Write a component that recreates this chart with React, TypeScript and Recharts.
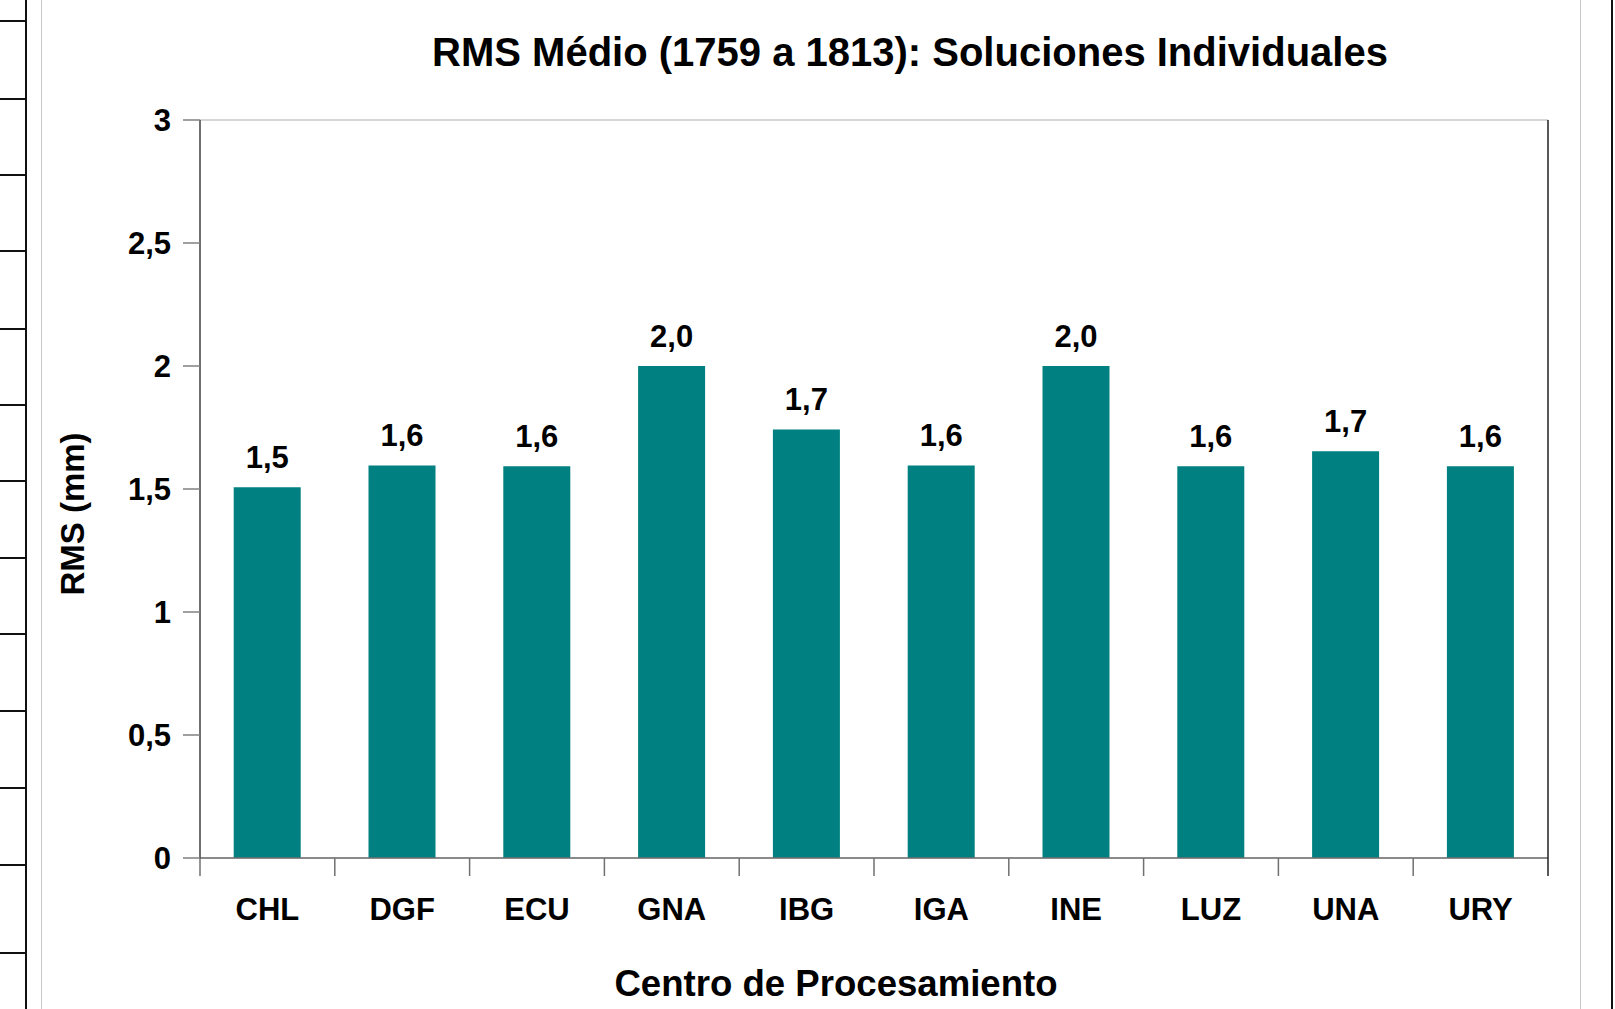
import React from 'react';
import { BarChart, Bar, XAxis, YAxis, CartesianGrid, LabelList } from 'recharts';

const categories = ['CHL', 'DGF', 'ECU', 'GNA', 'IBG', 'IGA', 'INE', 'LUZ', 'UNA', 'URY'];
const rmsValues = [1.507, 1.596, 1.592, 2.0, 1.742, 1.596, 2.0, 1.592, 1.653, 1.592];
const yTicks = [0, 0.5, 1, 1.5, 2, 2.5, 3];
const titleText = 'RMS Médio (1759 a 1813): Soluciones Individuales';
const yLabelText = 'RMS (mm)';
const xLabelText = 'Centro de Procesamiento';
const leftRuleMarks = [21, 99, 175, 251, 329, 405, 481, 558, 634, 711, 788, 865, 953];

const data = categories.map((c, i) => ({ name: c, rms: rmsValues[i] }));

const FONT = '"Liberation Sans", Arial, sans-serif';
const fmt = (v: number) => v.toFixed(1).replace('.', ',');
const fmtTick = (v: number) => String(v).replace('.', ',');

const XTick = (props: any) => {
  const { x, y, payload, index, visibleTicksCount } = props;
  const half = payload && payload.offset ? payload.offset : 67.4;
  const ay = y - 8;
  const last = index === (visibleTicksCount ?? categories.length) - 1;
  return (
    <g>
      <line x1={x - half} x2={x - half} y1={ay} y2={ay + 18} stroke="#707070" strokeWidth={1.5} />
      {last && <line x1={x + half} x2={x + half} y1={ay} y2={ay + 18} stroke="#202020" strokeWidth={1.5} />}
      <text x={x} y={ay + 51} textAnchor="middle" dominantBaseline="central" fontFamily={FONT} fontWeight="bold" fontSize={31} fill="#000">
        {payload.value}
      </text>
    </g>
  );
};

export default function App() {
  return (
    <div style={{ position: 'absolute', left: 0, top: 0, width: 1615, height: 1009, background: '#fff', overflow: 'hidden' }}>
      {/* page decorations */}
      <div style={{ position: 'absolute', left: 25, top: 0, width: 2, height: 1009, background: '#111' }} />
      {leftRuleMarks.map((y, i) => (
        <div key={i} style={{ position: 'absolute', left: 0, top: y - 1, width: 26, height: 2, background: '#111' }} />
      ))}
      <div style={{ position: 'absolute', left: 41, top: 0, width: 1, height: 1009, background: '#c8c8c8' }} />
      <div style={{ position: 'absolute', left: 1580, top: 0, width: 1, height: 1009, background: '#c8c8c8' }} />
      <div style={{ position: 'absolute', left: 1611, top: 0, width: 2, height: 1009, background: '#111' }} />
      <div style={{ position: 'absolute', left: 0, top: 26, width: 1615, textAlign: 'center', paddingLeft: 205, boxSizing: 'border-box', fontFamily: FONT, fontWeight: 'bold', fontSize: 40, lineHeight: '52px', color: '#000' }}>
        {titleText}
      </div>
      <div style={{ position: 'absolute', left: 0, top: 0 }}>
        <BarChart width={1615} height={1009} data={data} margin={{ top: 120, right: 57, left: 0, bottom: 0 }} barCategoryGap="25%">
          <CartesianGrid horizontal={true} vertical={false} stroke="#c8c8c8" strokeWidth={1.5} />
          <XAxis
            dataKey="name"
            height={151}
            axisLine={{ stroke: '#707070', strokeWidth: 1.5 }}
            tickLine={false}
            tick={<XTick />}
            interval={0}
            label={{
              content: () => (
                <text x={836} y={983} textAnchor="middle" dominantBaseline="central" fontFamily={FONT} fontWeight="bold" fontSize={36.6} fill="#000">
                  {xLabelText}
                </text>
              ),
            }}
          />
          <YAxis
            yAxisId="left"
            width={200}
            domain={[0, 3]}
            ticks={yTicks}
            tickFormatter={fmtTick}
            tickSize={17}
            tickMargin={12}
            tickLine={{ stroke: '#808080', strokeWidth: 1.5 }}
            axisLine={{ stroke: '#404040', strokeWidth: 1.5 }}
            tick={{ fontFamily: FONT, fontWeight: 'bold', fontSize: 31, fill: '#000' }}
            label={{
              content: () => (
                <text x={72} y={514} transform="rotate(-90 72 514)" textAnchor="middle" dominantBaseline="central" fontFamily={FONT} fontWeight="bold" fontSize={33} fill="#000">
                  {yLabelText}
                </text>
              ),
            }}
          />
          <YAxis
            yAxisId="right"
            orientation="right"
            width={10}
            domain={[0, 3]}
            ticks={yTicks}
            tick={false}
            tickLine={false}
            axisLine={{ stroke: '#202020', strokeWidth: 1.5 }}
          />
          <Bar yAxisId="left" dataKey="rms" fill="#008080" isAnimationActive={false}>
            <LabelList
              dataKey="rms"
              position="top"
              offset={19}
              formatter={(v: any) => fmt(Number(v))}
              style={{ fontFamily: FONT, fontWeight: 'bold', fontSize: 31, fill: '#000' }}
            />
          </Bar>
        </BarChart>
      </div>
    </div>
  );
}
